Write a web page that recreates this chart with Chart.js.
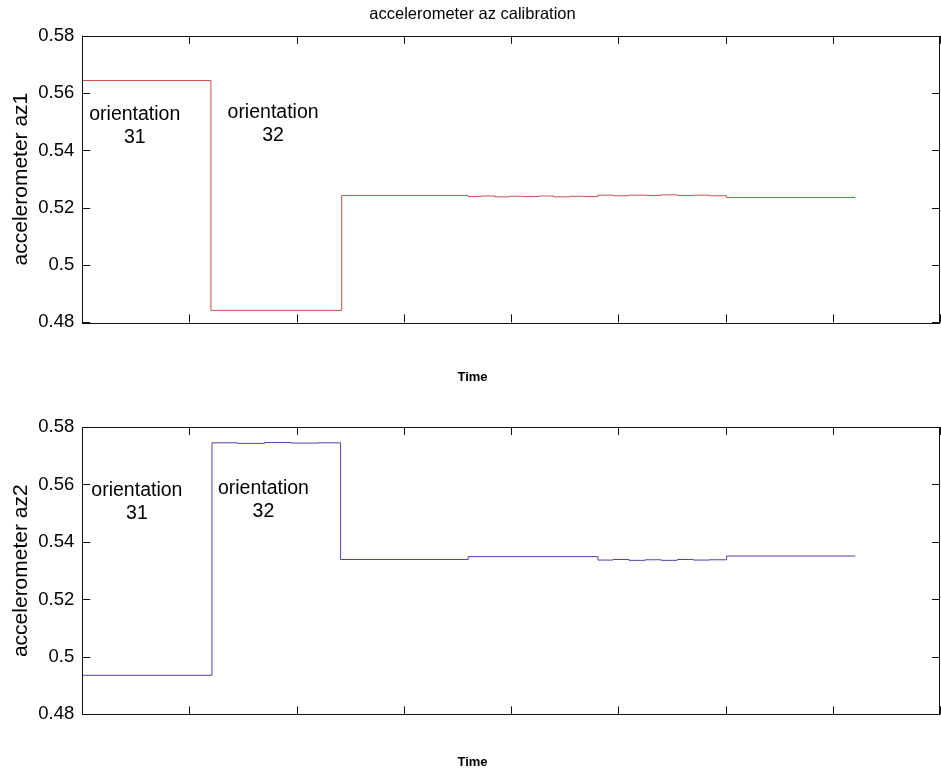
<!DOCTYPE html>
<html>
<head>
<meta charset="utf-8">
<title>accelerometer az calibration</title>
<script src="https://cdn.jsdelivr.net/npm/chart.js@4.4.1/dist/chart.umd.min.js"></script>
<style>
    body { margin: 0; background: #fff; }
    canvas { display: block; }
</style>
</head>
<body>
<canvas id="az1" width="941" height="390"></canvas>
<canvas id="az2" width="941" height="388"></canvas>
<script>
// time axis (ticks carry no visible labels in the original)
const timeTicks = [0, 1, 2, 3, 4, 5, 6, 7, 8];
const yTickLabels = ['0.48', '0.5', '0.52', '0.54', '0.56', '0.58'];

// sensor az1, value holds until the next time stamp
const az1Time  = [0, 1.20, 2.42, 3.60, 3.72, 3.85, 3.98, 4.12, 4.26, 4.40, 4.55, 4.68, 4.81, 4.95, 5.10, 5.25, 5.40, 5.55, 5.70, 5.85, 6.01, 7.21];
const az1Value = [0.5644, 0.4842, 0.5243, 0.5239, 0.5241, 0.5238, 0.5240, 0.5239, 0.5241, 0.5238, 0.5240, 0.5239, 0.5244, 0.5242, 0.5244, 0.5243, 0.5245, 0.5243, 0.5244, 0.5242, 0.5236, 0.5236];

// sensor az2
const az2Time  = [0, 1.21, 1.45, 1.70, 1.95, 2.20, 2.41, 3.60, 4.81, 4.95, 5.10, 5.25, 5.40, 5.55, 5.70, 5.85, 6.01, 7.21];
const az2Value = [0.4936, 0.5745, 0.5743, 0.5746, 0.5744, 0.5745, 0.5339, 0.5349, 0.5337, 0.5339, 0.5336, 0.5338, 0.5336, 0.5339, 0.5337, 0.5338, 0.5351, 0.5351];

// text notes, in data units
const noteText = [['orientation', '31'], ['orientation', '32']];
const az1NoteX = [0.49, 1.78];
const az1NoteY = [0.5524, 0.5531];
const az2NoteX = [0.51, 1.69];
const az2NoteY = [0.5580, 0.5584];

const FONT = '"Liberation Sans", Arial, Helvetica, sans-serif';

// MATLAB-like box with ticks pointing inwards
const boxTicks = {
    id: 'boxTicks',
    afterDraw (chart) {
        const { ctx, chartArea: a, scales: { x, y } } = chart;
        const len = 8;
        ctx.save();
        ctx.strokeStyle = '#111';
        ctx.lineWidth = 1;
        ctx.beginPath();
        x.ticks.forEach(t => {
            const px = Math.round(x.getPixelForValue(t.value)) + 0.5;
            ctx.moveTo(px, a.bottom);
            ctx.lineTo(px, a.bottom - len);
            ctx.moveTo(px, a.top);
            ctx.lineTo(px, a.top + len);
        });
        y.ticks.forEach(t => {
            const py = Math.round(y.getPixelForValue(t.value)) + 0.5;
            ctx.moveTo(a.left, py);
            ctx.lineTo(a.left + len, py);
            ctx.moveTo(a.right, py);
            ctx.lineTo(a.right - len, py);
        });
        ctx.stroke();
        ctx.strokeRect(Math.round(a.left) + 0.5, Math.round(a.top) + 0.5,
            Math.round(a.right - a.left) - 1, Math.round(a.bottom - a.top));
        ctx.restore();
    }
};

const notes = {
    id: 'notes',
    afterDatasetsDraw (chart, args, opts) {
        const { ctx, scales: { x, y } } = chart;
        ctx.save();
        ctx.fillStyle = '#000';
        ctx.font = '19.5px ' + FONT;
        ctx.textAlign = 'center';
        ctx.textBaseline = 'middle';
        opts.xs.forEach((xv, i) => {
            const px = x.getPixelForValue(xv);
            const py = y.getPixelForValue(opts.ys[i]);
            noteText[i].forEach((line, k) => ctx.fillText(line, px, py + k * 23));
        });
        ctx.restore();
    }
};

function drawPanel (id, times, values, color, yTitle, noteX, noteY, topTitle, pad) {
    new Chart(document.getElementById(id), {
        type: 'line',
        plugins: [boxTicks, notes],
        data: {
            datasets: [{
                data: times.map((t, i) => ({ x: t, y: values[i] })),
                borderColor: color,
                borderWidth: 1,
                pointRadius: 0,
                stepped: true,
                tension: 0
            }]
        },
        options: {
            responsive: false,
            animation: false,
            events: [],
            layout: { padding: { left: 5, right: 1, top: pad.top, bottom: 0 } },
            plugins: {
                legend: { display: false },
                tooltip: { enabled: false },
                title: {
                    display: !!topTitle,
                    text: topTitle,
                    color: '#000',
                    font: { family: FONT, size: 16.5, weight: 'normal' },
                    padding: { top: 5, bottom: 11 }
                },
                subtitle: {
                    display: true,
                    position: 'bottom',
                    text: 'Time',
                    color: '#000',
                    font: { family: FONT, size: 13, weight: 'bold' },
                    padding: { top: pad.timeTop, bottom: pad.timeBottom }
                },
                notes: { xs: noteX, ys: noteY }
            },
            scales: {
                x: {
                    type: 'linear',
                    min: timeTicks[0],
                    max: timeTicks[timeTicks.length - 1],
                    afterBuildTicks: (scale) => { scale.ticks = timeTicks.map(v => ({ value: v })); },
                    ticks: { display: false },
                    grid: { display: false, drawTicks: false },
                    border: { display: false }
                },
                y: {
                    min: 0.48,
                    max: 0.58,
                    ticks: {
                        stepSize: 0.02,
                        color: '#000',
                        padding: 8,
                        font: { family: FONT, size: 18.5 },
                        callback: (value, index) => yTickLabels[index]
                    },
                    grid: { display: false, drawTicks: false },
                    border: { display: false },
                    title: {
                        display: true,
                        text: yTitle,
                        color: '#000',
                        font: { family: FONT, size: 21 },
                        padding: { top: 4, bottom: -4 }
                    }
                }
            }
        }
    });
}

drawPanel('az1', az1Time, az1Value, '#c8504b', 'accelerometer az1', az1NoteX, az1NoteY,
    'accelerometer az calibration', { top: 0, timeTop: 47, timeBottom: 5 });
drawPanel('az2', az2Time, az2Value, '#4a44b0', 'accelerometer az2', az2NoteX, az2NoteY,
    '', { top: 37, timeTop: 40, timeBottom: 8 });
</script>
</body>
</html>
